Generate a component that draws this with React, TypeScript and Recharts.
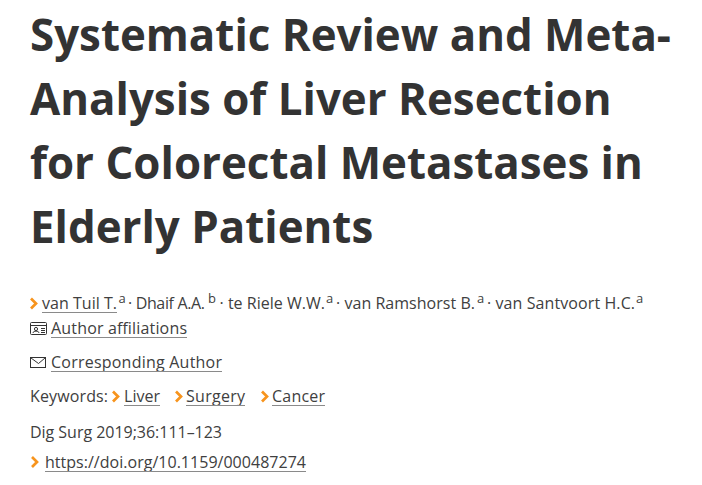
import React from "react";
import { ComposedChart, Customized } from "recharts";

const W = 702, H = 485;
const INK = "#333333", BODY = "#404040", RULE = "#8a8a8a", ORANGE = "#f7941d";
const FONT = "'Open Sans', sans-serif";

const titleLines = ["Systematic Review and Meta-", "Analysis of Liver Resection", "for Colorectal Metastases in", "Elderly Patients"];
const titleBaselines = [51, 115, 179, 243];

type Run = { t: string; x: number; w?: number; sup?: boolean };
const authors: Run[] = [
  { t: "van Tuil T.", x: 42, w: 75 }, { t: "a", x: 118.5, sup: true },
  { t: "· Dhaif A.A.", x: 128, w: 77 }, { t: "b", x: 208, sup: true },
  { t: "· te Riele W.W.", x: 219.5, w: 105.5 }, { t: "a", x: 326, sup: true },
  { t: "· van Ramshorst B.", x: 336, w: 139 }, { t: "a", x: 477, sup: true },
  { t: "· van Santvoort H.C.", x: 487, w: 148 }, { t: "a", x: 636, sup: true },
];
const rows: { t: string; x: number; y: number; w: number }[] = [
  { t: "Author affiliations", x: 51, y: 334, w: 136 },
  { t: "Corresponding Author", x: 51, y: 368, w: 171 },
  { t: "Keywords:", x: 30, y: 402, w: 78 },
  { t: "Liver", x: 124, y: 402, w: 36 },
  { t: "Surgery", x: 186, y: 402, w: 59 },
  { t: "Cancer", x: 272, y: 402, w: 53 },
  { t: "Dig Surg 2019;36:111–123", x: 30, y: 438, w: 192 },
  { t: "https://doi.org/10.1159/000487274", x: 45, y: 468, w: 261 },
];
const underlines: [number, number, number][] = [
  [42, 117, 312], [51, 187, 337], [51, 222, 371], [124, 160, 405],
  [186, 245, 405], [272, 325, 405], [45, 306, 471],
];
const chevrons: [number, number][] = [[31, 303.5], [113, 396.5], [176, 396.5], [262, 396.5], [32, 462]];

const Chevron = ({ x, y }: { x: number; y: number }) => (
  <path d={`M${x} ${y - 5}L${x + 5} ${y}L${x} ${y + 5}`} fill="none" stroke={ORANGE} strokeWidth={2.7} />
);

const Page = () => (
  <g fontFamily={FONT}>
    {titleLines.map((l, i) => (
      <text key={l} x={30} y={titleBaselines[i]} fontSize={43.85} fontWeight={700} fill={INK}>{l}</text>
    ))}
    {authors.map((r) => (
      <text key={r.t + r.x} x={r.x} y={r.sup ? 303 : 309} fontSize={r.sup ? 13 : 16} fill={BODY} textLength={r.w}>{r.t}</text>
    ))}
    {rows.map((r) => (
      <text key={r.t} x={r.x} y={r.y} fontSize={16} fill={BODY} textLength={r.w}>{r.t}</text>
    ))}
    {underlines.map(([a, b, y]) => (
      <path key={a + "-" + y} d={`M${a} ${y + 0.5}H${b}`} stroke={RULE} strokeWidth={1} />
    ))}
    {chevrons.map(([x, y]) => <Chevron key={x + "-" + y} x={x} y={y} />)}
    <g fill="none" stroke={INK} strokeWidth={1}>
      <rect x={30.5} y={322.5} width={16} height={12} rx={1} />
      <path d="M31 325.5h15" />
      <circle cx={36} cy={329} r={1.6} />
      <path d="M33 333c0-2.5 6-2.5 6 0M41 328.5h4M41 330.5h4M41 332.5h4" />
      <rect x={30.5} y={357.5} width={15} height={10} />
      <path d="M31 358l7.5 5.5L45 358" />
    </g>
  </g>
);

export default function App() {
  return (
    <div style={{ position: "absolute", left: 0, top: 0, width: W, height: H, background: "#fff" }}>
      <ComposedChart width={W} height={H} data={[]} margin={{ top: 0, right: 0, bottom: 0, left: 0 }}>
        <Customized component={Page} />
      </ComposedChart>
    </div>
  );
}
